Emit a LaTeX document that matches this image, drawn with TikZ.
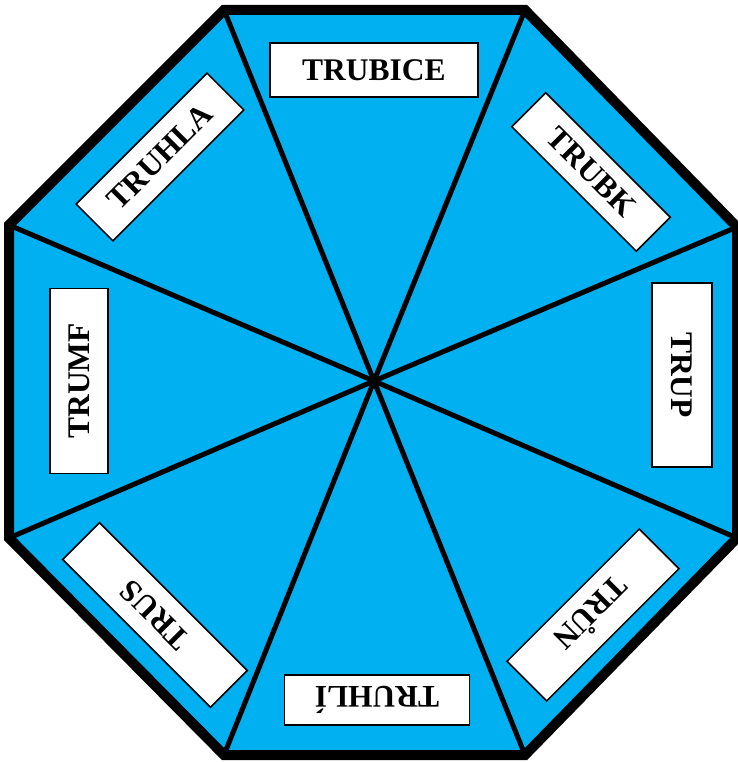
\documentclass[tikz,border=0pt]{standalone}
\usepackage{fontspec}
\setmainfont{Liberation Serif}
\definecolor{skyfill}{HTML}{00B0F0}
\begin{document}
\begin{tikzpicture}[x=1pt,y=-1pt,
  lab/.style={draw=black,fill=white,line width=1.5pt,inner sep=0pt,
    minimum width=187pt,minimum height=54pt,
    font=\fontsize{31.5}{31.5}\selectfont\bfseries},
  spoke/.style={line width=5pt},
  rim/.style={line width=10pt,line join=miter}]
\useasboundingbox (0,0) rectangle (737,762);
\coordinate (c) at (374,381);
\coordinate (v1) at (224,10);
\coordinate (v2) at (525,10);
\coordinate (v3) at (737,227);
\coordinate (v4) at (737,538);
\coordinate (v5) at (525,755);
\coordinate (v6) at (224,755);
\coordinate (v7) at (9,538);
\coordinate (v8) at (9,225);
\fill[skyfill] (v1) -- (v2) -- (v3) -- (v4) -- (v5) -- (v6) -- (v7) -- (v8) -- cycle;
\foreach \i in {1,...,8}{\draw[spoke] (c) -- (v\i);}
\draw[rim] (v1) -- (v2) -- (v3) -- (v4) -- (v5) -- (v6) -- (v7) -- (v8) -- cycle;
\node[lab,minimum width=208pt] (l1) at (374,70) {TRUBICE};
\node[lab,rotate=-45,minimum width=176pt,minimum height=48pt] (l2) at (591,172) {TRUBK};
\node[lab,rotate=-90,minimum width=184pt,minimum height=60pt] (l3) at (682,375) {TRUP};
\node[lab,rotate=-135,minimum width=187pt,minimum height=56pt] (l4) at (593,615) {TRŮN};
\node[lab,rotate=180,minimum width=185pt,minimum height=50pt] (l5) at (377,700) {TRUHLÍ};
\node[lab,rotate=135,minimum width=209pt,minimum height=52pt] (l6) at (155,615) {TRUS};
\node[lab,rotate=90,minimum width=185pt,minimum height=58pt] (l7) at (79,381) {TRUMF};
\node[lab,rotate=45,minimum width=185pt,minimum height=52pt] (l8) at (160,157) {TRUHLA};
\end{tikzpicture}
\end{document}
